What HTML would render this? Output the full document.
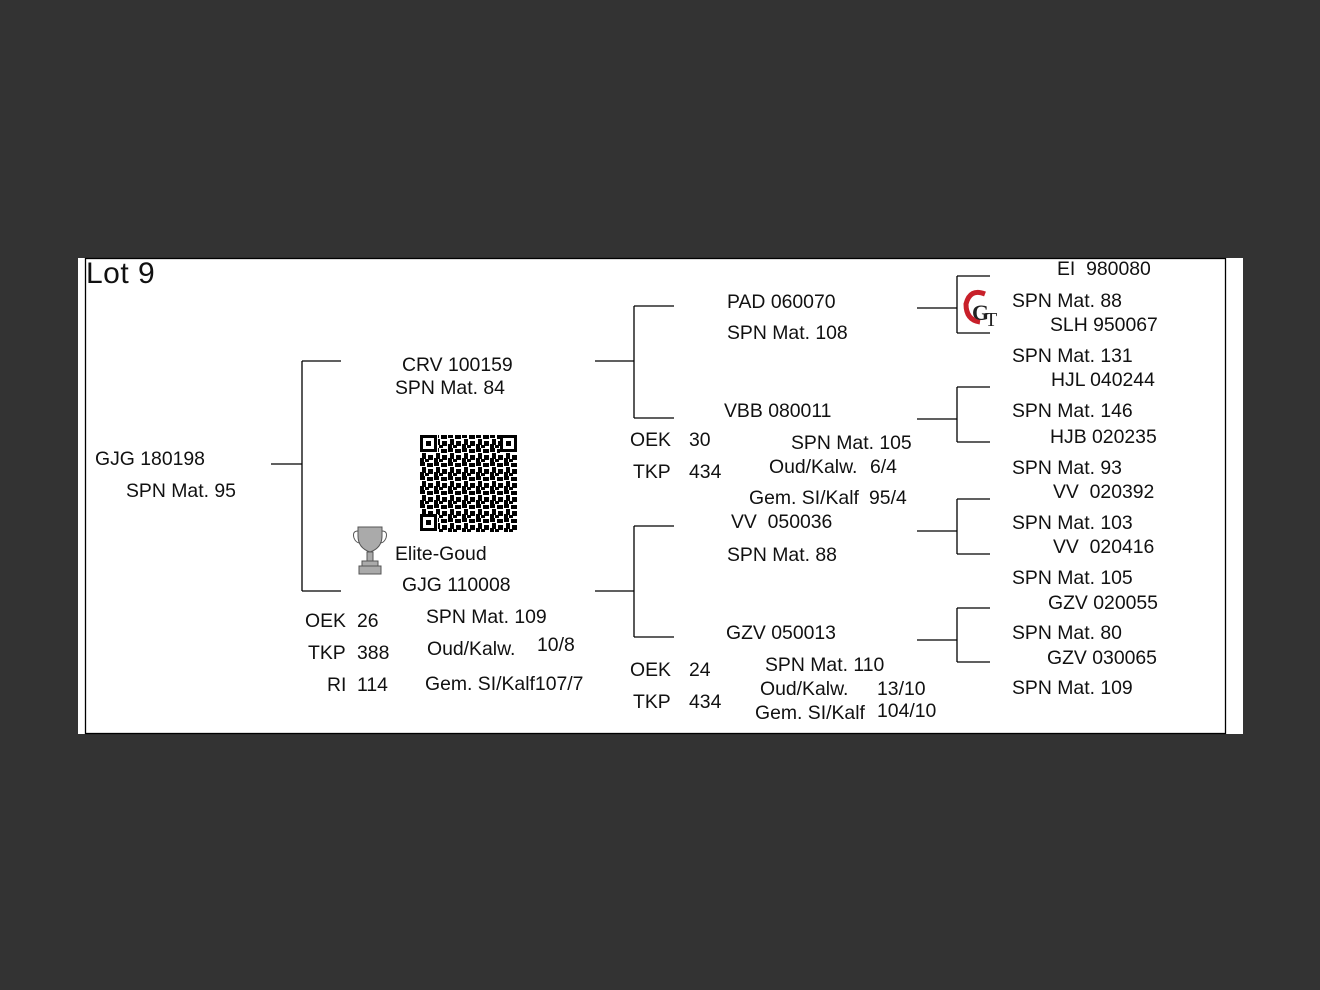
<!DOCTYPE html>
<html><head><meta charset="utf-8"><style>
body{margin:0;width:1320px;height:990px;background:#333;position:relative;overflow:hidden;font-family:"Liberation Sans",Arial,sans-serif;}
#pg{position:absolute;left:78px;top:258px;width:1165px;height:476px;background:#fff;}
.t{position:absolute;font-size:19.4px;line-height:20px;color:#111;white-space:pre;margin-top:2px;}
svg{position:absolute;left:0;top:0;}
</style></head><body>
<div id="pg"></div>
<svg width="1320" height="990">
<g stroke="#000" stroke-width="1.3" fill="none">
<rect x="85.5" y="258.5" width="1140" height="475"/>
<path d="M271 464H302M302 361V591M302 361H341M302 591H341"/>
<path d="M595 361H634M634 306V418M634 306H674M634 418H674"/>
<path d="M595 591H634M634 526V637M634 526H674M634 637H674"/>
<path d="M917 308H957M957 276V333M957 276H990M957 333H990"/>
<path d="M917 419H957M957 387V442M957 387H990M957 442H990"/>
<path d="M917 531H957M957 499V554M957 499H990M957 554H990"/>
<path d="M917 640H957M957 608V662M957 608H990M957 662H990"/>
</g>
<defs><pattern id="qr" width="14" height="14" patternUnits="userSpaceOnUse">
<rect x="0" y="0" width="5" height="4" fill="#000"/><rect x="7" y="1" width="6" height="4" fill="#000"/>
<rect x="2" y="5" width="4" height="6" fill="#000"/><rect x="8" y="7" width="5" height="5" fill="#000"/>
<rect x="0" y="10" width="4" height="4" fill="#000"/><rect x="5" y="11" width="4" height="3" fill="#000"/>
</pattern></defs>
<rect x="420" y="435" width="98" height="97" fill="url(#qr)"/>
<g fill="#fff"><rect x="420" y="435" width="18" height="18"/><rect x="500" y="435" width="18" height="18"/><rect x="420" y="514" width="18" height="18"/></g>
<g fill="none" stroke="#000" stroke-width="3"><rect x="421.5" y="436.5" width="14" height="14"/><rect x="501.5" y="436.5" width="14" height="14"/><rect x="421.5" y="515.5" width="14" height="14"/></g>
<g fill="#000"><rect x="426" y="441" width="5" height="5"/><rect x="506" y="441" width="5" height="5"/><rect x="426" y="520" width="5" height="5"/></g>
<g fill="#aaa" stroke="#555" stroke-width="1">
<path d="M358 527H382V536Q382 548 370 552Q358 548 358 536Z"/>
<rect x="367" y="552" width="6" height="9"/>
<rect x="362" y="561" width="16" height="5"/>
<rect x="359" y="566" width="22" height="8"/>
<path d="M358 531Q352 531 354 538Q356 543 360 543" fill="none"/>
<path d="M382 531Q388 531 386 538Q384 543 380 543" fill="none"/>
</g>
<path d="M985 294Q970 288 966 304Q966 320 980 322" stroke="#c8202a" stroke-width="5" fill="none"/>
<text x="972" y="320" font-family="Liberation Serif" font-size="22" font-weight="bold" fill="#222">G</text>
<text x="985" y="326" font-family="Liberation Serif" font-size="20" fill="#222">T</text>
</svg>
<div class="t" style="left:86px;top:257px;font-size:30px;line-height:30px;letter-spacing:0.5px">Lot 9</div>
<div class="t" style="left:95px;top:447px">GJG 180198</div>
<div class="t" style="left:126px;top:479px">SPN Mat. 95</div>
<div class="t" style="left:402px;top:353px">CRV 100159</div>
<div class="t" style="left:395px;top:376px">SPN Mat. 84</div>
<div class="t" style="left:395px;top:542px">Elite-Goud</div>
<div class="t" style="left:402px;top:573px">GJG 110008</div>
<div class="t" style="left:426px;top:605px">SPN Mat. 109</div>
<div class="t" style="left:427px;top:637px">Oud/Kalw.</div>
<div class="t" style="left:537px;top:633px">10/8</div>
<div class="t" style="left:425px;top:672px">Gem. SI/Kalf107/7</div>
<div class="t" style="left:305px;top:609px">OEK</div><div class="t" style="left:357px;top:609px">26</div>
<div class="t" style="left:308px;top:641px">TKP</div><div class="t" style="left:357px;top:641px">388</div>
<div class="t" style="left:327px;top:673px">RI</div><div class="t" style="left:357px;top:673px">114</div>
<div class="t" style="left:727px;top:290px">PAD 060070</div>
<div class="t" style="left:727px;top:321px">SPN Mat. 108</div>
<div class="t" style="left:724px;top:399px">VBB 080011</div>
<div class="t" style="left:630px;top:428px">OEK</div><div class="t" style="left:689px;top:428px">30</div>
<div class="t" style="left:633px;top:460px">TKP</div><div class="t" style="left:689px;top:460px">434</div>
<div class="t" style="left:791px;top:431px">SPN Mat. 105</div>
<div class="t" style="left:769px;top:455px">Oud/Kalw.</div><div class="t" style="left:870px;top:455px">6/4</div>
<div class="t" style="left:749px;top:486px">Gem. SI/Kalf</div><div class="t" style="left:869px;top:486px">95/4</div>
<div class="t" style="left:731px;top:510px">VV  050036</div>
<div class="t" style="left:727px;top:543px">SPN Mat. 88</div>
<div class="t" style="left:726px;top:621px">GZV 050013</div>
<div class="t" style="left:630px;top:658px">OEK</div><div class="t" style="left:689px;top:658px">24</div>
<div class="t" style="left:633px;top:690px">TKP</div><div class="t" style="left:689px;top:690px">434</div>
<div class="t" style="left:765px;top:653px">SPN Mat. 110</div>
<div class="t" style="left:760px;top:677px">Oud/Kalw.</div><div class="t" style="left:877px;top:677px">13/10</div>
<div class="t" style="left:755px;top:701px">Gem. SI/Kalf</div><div class="t" style="left:877px;top:699px">104/10</div>
<div class="t" style="left:1057px;top:257px">EI  980080</div>
<div class="t" style="left:1012px;top:289px">SPN Mat. 88</div>
<div class="t" style="left:1050px;top:313px">SLH 950067</div>
<div class="t" style="left:1012px;top:344px">SPN Mat. 131</div>
<div class="t" style="left:1051px;top:368px">HJL 040244</div>
<div class="t" style="left:1012px;top:399px">SPN Mat. 146</div>
<div class="t" style="left:1050px;top:425px">HJB 020235</div>
<div class="t" style="left:1012px;top:456px">SPN Mat. 93</div>
<div class="t" style="left:1053px;top:480px">VV  020392</div>
<div class="t" style="left:1012px;top:511px">SPN Mat. 103</div>
<div class="t" style="left:1053px;top:535px">VV  020416</div>
<div class="t" style="left:1012px;top:566px">SPN Mat. 105</div>
<div class="t" style="left:1048px;top:591px">GZV 020055</div>
<div class="t" style="left:1012px;top:621px">SPN Mat. 80</div>
<div class="t" style="left:1047px;top:646px">GZV 030065</div>
<div class="t" style="left:1012px;top:676px">SPN Mat. 109</div>
</body></html>
